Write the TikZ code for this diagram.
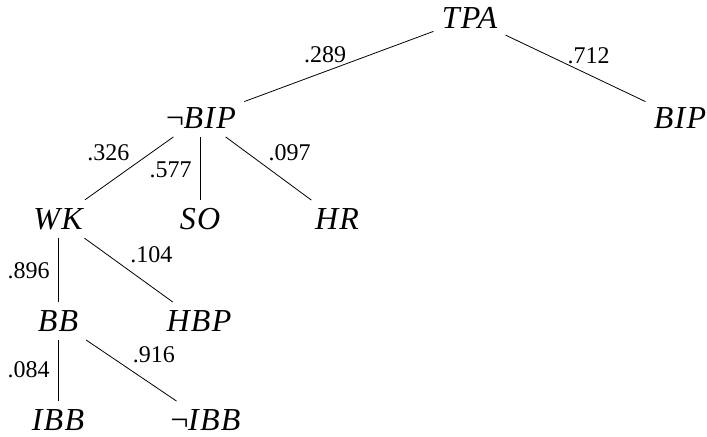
\documentclass[tikz,border=0pt]{standalone}
\usepackage{fontspec}
\setmainfont{Liberation Serif}
\newfontfamily\varfont[LetterSpace=4]{Liberation Serif}
\begin{document}
\begin{tikzpicture}[x=0.75pt, y=-0.75pt, line width=0.6pt,
  var/.style={inner sep=6pt, font=\varfont\fontsize{24}{28}\selectfont\itshape},
  prob/.style={inner sep=0pt, font=\fontsize{18}{21}\selectfont}]
  \useasboundingbox (0,0) rectangle (707,436);
  \node[var] (tpa) at (469.5, 18) {TPA};
  \node[var] (nbip) at (200, 118) {¬\kern-1.5pt BIP};
  \node[var] (bip) at (680, 118) {BIP};
  \node[var] (wk) at (58, 219) {WK};
  \node[var] (so) at (200, 219) {SO};
  \node[var] (hr) at (337, 219) {HR};
  \node[var] (bb) at (58, 321) {BB};
  \node[var] (hbp) at (199, 321) {HBP};
  \node[var] (ibb) at (58, 420) {IBB};
  \node[var] (nibb) at (204.5, 420) {¬\kern-1.5pt IBB};
  \draw (tpa) -- node[prob, pos=0.46, above left] {.289} (nbip);
  \draw (tpa) -- node[prob, pos=0.44, above right] {.712} (bip);
  \draw (nbip) -- node[prob, pos=0.45, above left=2.8pt] {.326} (wk);
  \draw (nbip) -- node[prob, pos=0.52, left=6pt] {.577} (so);
  \draw (nbip) -- node[prob, pos=0.45, above right=3pt] {.097} (hr);
  \draw (wk) -- node[prob, pos=0.51, left=6pt] {.896} (bb);
  \draw (wk) -- node[prob, pos=0.46, above right=3.6pt] {.104} (hbp);
  \draw (bb) -- node[prob, pos=0.48, left=6pt] {.084} (ibb);
  \draw (bb) -- node[prob, pos=0.46, above right=3.6pt] {.916} (nibb);
\end{tikzpicture}
\end{document}
